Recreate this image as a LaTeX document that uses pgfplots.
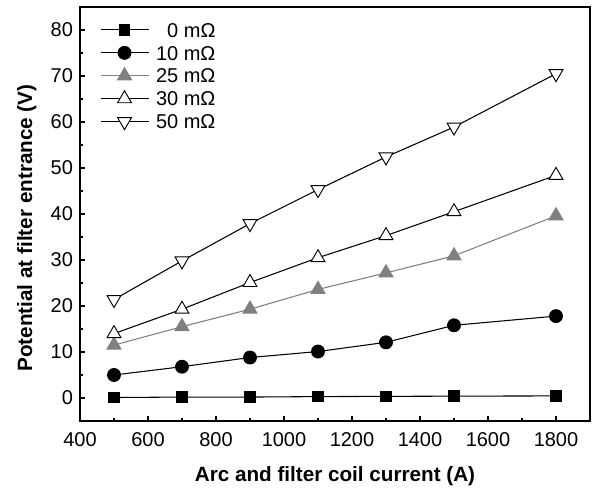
\documentclass[border=0pt]{standalone}
\usepackage{fontspec}
\setmainfont{Liberation Sans}
\usepackage{pgfplots}
\pgfplotsset{compat=1.18}
\definecolor{mgray}{gray}{0.5}
\begin{document}
\begin{tikzpicture}[x=1pt,y=1pt]
\begin{axis}[
  scale only axis,
  width=382.5pt, height=310.5pt,
  xmin=400, xmax=1900, ymin=-5, ymax=85,
  xtick={400,600,...,1800}, ytick={0,10,...,80},
  minor x tick num=1, minor y tick num=1,
  tick align=inside, xtick pos=bottom, ytick pos=left,
  major tick length=4pt, minor tick length=2.2pt,
  every tick/.style={black, line width=0.8pt},
  axis line style={line width=1.1pt},
  /pgf/number format/assume math mode=true,
  /pgf/number format/1000 sep={},
  tick label style={font=\fontsize{15}{18}\selectfont},
  xticklabel style={anchor=base, yshift=-19.5pt},
  yticklabel style={xshift=-1.75pt},
  label style={font=\fontsize{15.5}{18}\selectfont\bfseries},
  xlabel={Arc and filter coil current (A)},
  ylabel={Potential at filter entrance (V)},
  xlabel style={at={(axis description cs:0.5,0)}, anchor=base, yshift=-45.75pt},
  ylabel style={at={(axis description cs:-0.0941,0.466)}, anchor=base},
  legend style={draw=none, fill=none, at={(axis description cs:0.0392,0.9723)}, anchor=north west,
    font=\fontsize{15}{18}\selectfont, row sep=0pt, column sep=5.25pt, inner sep=0pt, outer sep=0pt,
    nodes={inner sep=0pt, text height=10.8pt, text depth=0pt}},
  legend cell align=left,
  legend image code/.code={%
    \path[draw=none, fill=none] (0pt,-8.6pt) rectangle (36pt,8.6pt);
    \draw[mark repeat=2,mark phase=2] plot coordinates {(0pt,0pt) (18pt,0pt) (36pt,0pt)};},
  every axis plot/.append style={line width=0.8pt},
]
\addplot[black, mark=square*, mark size=4pt, mark options={fill=black}] coordinates {
 (500,0.1) (700,0.2) (900,0.2) (1100,0.3) (1300,0.35) (1500,0.4) (1800,0.45)};
\addlegendentry{\phantom{1}0 mΩ}
\addplot[black, mark=*, mark size=4.8pt, mark options={fill=black}] coordinates {
 (500,5.0) (700,6.8) (900,8.8) (1100,10.1) (1300,12.1) (1500,15.8) (1800,17.8)};
\addlegendentry{10 mΩ}
\addplot[mgray, mark=triangle*, mark size=6pt, mark options={fill=mgray, draw=mgray}] coordinates {
 (500,11.5) (700,15.5) (900,19.3) (1100,23.6) (1300,27.2) (1500,30.9) (1800,39.6)};
\addlegendentry{25 mΩ}
\addplot[black, mark=triangle*, mark size=6pt, mark options={fill=white, line width=0.7pt}] coordinates {
 (500,14.0) (700,19.3) (900,25.1) (1100,30.5) (1300,35.3) (1500,40.5) (1800,48.4)};
\addlegendentry{30 mΩ}
\addplot[black, mark=triangle*, mark size=6pt, mark options={fill=white, rotate=180, line width=0.7pt}] coordinates {
 (500,21.4) (700,29.8) (900,37.9) (1100,45.3) (1300,52.4) (1500,58.9) (1800,70.5)};
\addlegendentry{50 mΩ}
\end{axis}
\path (current axis.south west) ++(-60pt,-52.5pt) coordinate (bl);
\path (current axis.north east) ++(1.5pt,5.25pt) coordinate (tr);
\path (bl) rectangle (tr);
\end{tikzpicture}
\end{document}
